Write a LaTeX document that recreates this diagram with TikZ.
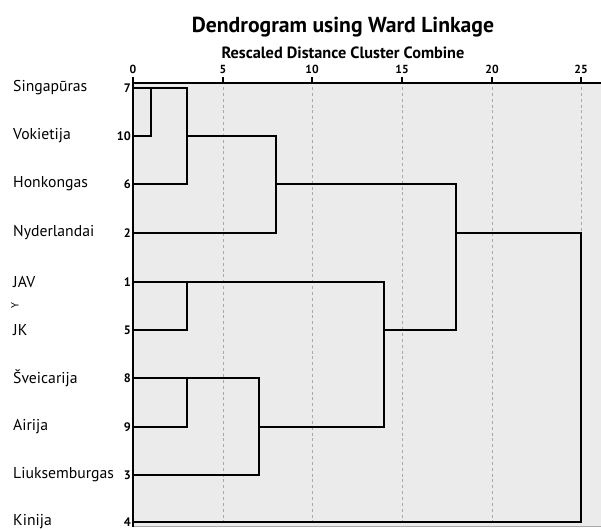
\documentclass[tikz,border=0pt]{standalone}
\usepackage{fontspec}
\setmainfont{PT Sans}
\usepackage{tikz}

\definecolor{bggray}{HTML}{EBEBEB}
\definecolor{gridgray}{HTML}{A9A9A9}
\newcommand{\dd}[1]{{round(133+17.93*#1)}}

\begin{document}
\begin{tikzpicture}[x=0.03cm,y=-0.03cm,
  link/.style={black,line width=1.4pt,line cap=rect},
  axisline/.style={black,line width=1.1pt},
  gridline/.style={gridgray,line width=0.7pt,dash pattern=on 2.5pt off 2.5pt},
  leaf/.style={anchor=east,font=\bfseries\fontsize{10.5}{11}\selectfont},
  country/.style={anchor=west,font=\fontsize{13.4}{14}\selectfont},
  ticklabel/.style={anchor=base,font=\bfseries\fontsize{10}{10}\selectfont}]
\tikzstyle{every node}+=[inner sep=0pt]
\useasboundingbox (0,0) rectangle (601,529);
\fill [bggray] (133,83) rectangle (601,526);
\draw [gridgray,line width=0.6pt] (133,526.5) -- (601,526.5);
\foreach \t in {5,10,...,25}
  \draw [gridline] (\dd{\t},87) -- (\dd{\t},526);
\draw [axisline] (133,83) -- (601,83);
\draw [axisline] (133,83) -- (133,527);
\foreach \t in {0,5,...,25} {
  \draw [axisline] (\dd{\t},77) -- (\dd{\t},83);
  \node [ticklabel] (t\t) at (\dd{\t},73) {\t};
}
\node [anchor=base,font=\bfseries\fontsize{18.5}{19}\selectfont] (title) at (343,32) {Dendrogram using Ward Linkage};
\node [anchor=base,font=\bfseries\fontsize{13.9}{14}\selectfont] (subtitle) at (343,58) {Rescaled Distance Cluster Combine};
\foreach \n/\lab/\y in {7/Singapūras/88,10/Vokietija/136,6/Honkongas/184,2/Nyderlandai/233,1/JAV/282,5/JK/330,8/Šveicarija/378,9/Airija/427,3/Liuksemburgas/475,4/Kinija/522} {
  \node [country] (c\n) at (13,\y) {\lab};
  \node [leaf] (k\n) at (131,\y) {\n};
  \coordinate (l\n) at (133,\y);
}
\node [rotate=90,font=\fontsize{9}{9}\selectfont] (ymark) at (15,306) {Y};
\coordinate (m1) at (\dd{1},88);
\coordinate (m2) at (\dd{3},88);
\coordinate (m3) at (\dd{8},136);
\coordinate (m4) at (\dd{3},282);
\coordinate (m5) at (\dd{3},378);
\coordinate (m6) at (\dd{7},378);
\coordinate (m7) at (\dd{14},282);
\coordinate (m8) at (\dd{18},184);
\coordinate (m9) at (\dd{25},233);
\draw [link] (l10) -| (m1);
\draw [link] (l7) -- (m2);
\draw [link] (l6) -| (m2);
\draw [link] (m2 |- l10) -- (m3);
\draw [link] (l2) -| (m3);
\draw [link] (m3 |- l6) -- (m8);
\draw [link] (l1) -- (m7);
\draw [link] (l5) -| (m4);
\draw [link] (l8) -- (m6);
\draw [link] (l9) -| (m5);
\draw [link] (l3) -| (m6);
\draw [link] (m6 |- l9) -| (m7);
\draw [link] (m7 |- l5) -| (m8);
\draw [link] (m8 |- l2) -- (m9);
\draw [link] (l4) -| (m9);
\end{tikzpicture}
\end{document}
